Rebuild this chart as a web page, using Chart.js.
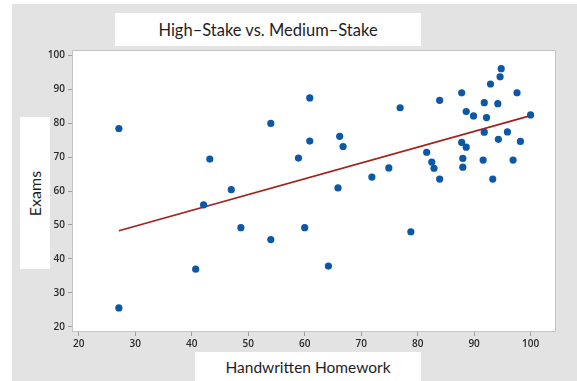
<!DOCTYPE html>
<html>
<head>
<meta charset="utf-8">
<script src="https://cdn.jsdelivr.net/npm/chart.js@4/dist/chart.umd.min.js"></script>
<style>
  html, body { margin: 0; padding: 0; background: #ffffff; }
  #wrap { position: relative; width: 577px; height: 381px; overflow: hidden; font-family: Lato, "Open Sans", sans-serif; }
  #panel { position: absolute; left: 12px; top: 4px; width: 565px; height: 377px; background: #e3e3e3; }
  .box { position: absolute; background: #ffffff; color: #1e1e1e; display: flex; align-items: center; justify-content: center; }
  #title { left: 115px; top: 13px; width: 306px; height: 33px; font-size: 16.5px; }
  #xlab { left: 195px; top: 352px; width: 226px; height: 29px; font-size: 15.5px; }
  #ylab { left: 20px; top: 117px; width: 30px; height: 152px; font-size: 16px; }
  #ylab span { display: inline-block; transform: rotate(-90deg); white-space: nowrap; }
  #c { position: absolute; left: 0; top: 0; }
</style>
</head>
<body>
<div id="wrap">
  <div id="panel"></div>
  <div class="box" id="title">High–Stake vs. Medium–Stake</div>
  <div class="box" id="ylab"><span>Exams</span></div>
  <div class="box" id="xlab">Handwritten Homework</div>
  <canvas id="c" width="577" height="381"></canvas>
</div>
<script>
// Handwritten homework score (x) and exam score (y) for each student
const homework = [27.1, 27.1, 40.7, 42.1, 43.2, 47.0, 48.7, 54.0, 54.0, 58.9,
                  60.0, 60.9, 60.9, 64.2, 65.9, 66.2, 66.8, 71.9, 74.9, 76.9,
                  78.8, 81.6, 82.5, 82.9, 83.9, 83.9, 87.8, 88.6, 89.9, 87.8,
                  88.6, 88.0, 88.0, 91.6, 93.3, 91.8, 92.2, 91.8, 92.9, 94.2,
                  94.3, 94.6, 94.8, 95.9, 96.9, 97.6, 98.2, 100.0];
const exams    = [78.4, 25.6, 37.0, 55.9, 69.4, 60.4, 49.2, 79.9, 45.7, 69.7,
                  49.2, 87.4, 74.7, 37.9, 60.9, 76.1, 73.1, 64.1, 66.8, 84.5,
                  48.0, 71.4, 68.5, 66.7, 63.5, 86.7, 88.9, 83.4, 82.1, 74.3,
                  72.9, 69.6, 67.0, 69.1, 63.5, 86.0, 81.6, 77.3, 91.5, 85.7,
                  75.2, 93.6, 96.0, 77.4, 69.1, 88.9, 74.6, 82.4];

// Fitted regression line end points
const fitX = [27.1, 100.0];
const fitY = [48.3, 82.2];

// Axis tick labels
const xTicks = [20, 30, 40, 50, 60, 70, 80, 90, 100];
const yTicks = [20, 30, 40, 50, 60, 70, 80, 90, 100];

const points = homework.map((x, i) => ({ x: x, y: exams[i] }));
const fitLine = fitX.map((x, i) => ({ x: x, y: fitY[i] }));

// White plot area with a thin grey frame
const plotFrame = {
  id: 'plotFrame',
  beforeDatasetsDraw(chart) {
    const a = chart.chartArea, ctx = chart.ctx;
    ctx.save();
    ctx.fillStyle = '#ffffff';
    ctx.fillRect(a.left, a.top, a.right - a.left, a.bottom - a.top);
    ctx.strokeStyle = '#c4c4c4';
    ctx.lineWidth = 1;
    ctx.strokeRect(a.left + 0.5, a.top + 0.5, a.right - a.left - 1, a.bottom - a.top - 1);
    ctx.restore();
  }
};

const tickFont = { family: '"Open Sans", sans-serif', size: 10, weight: '600' };

new Chart(document.getElementById('c'), {
  type: 'scatter',
  data: {
    datasets: [
      {
        data: points,
        backgroundColor: '#0b57a8',
        borderColor: '#0b57a8',
        borderWidth: 0,
        pointRadius: 3.6,
        pointHoverRadius: 3.6
      },
      {
        type: 'line',
        data: fitLine,
        borderColor: '#a3221d',
        borderWidth: 1.8,
        pointRadius: 0,
        fill: false,
        tension: 0
      }
    ]
  },
  options: {
    responsive: false,
    animation: false,
    devicePixelRatio: 1,
    layout: { padding: { left: 0, right: 21, top: 50, bottom: 0 } },
    plugins: { legend: { display: false }, tooltip: { enabled: false }, title: { display: false } },
    scales: {
      x: {
        type: 'linear',
        min: 18.8,
        max: 104.5,
        afterFit(s) { s.height = 49; },
        afterBuildTicks(s) { s.ticks = xTicks.map(v => ({ value: v })); },
        grid: { display: true, drawOnChartArea: false, drawTicks: true, tickLength: 4, color: '#a0a0a0' },
        border: { display: false },
        ticks: { font: tickFont, color: '#2a2a2a', padding: 2, maxRotation: 0 }
      },
      y: {
        type: 'linear',
        min: 18.5,
        max: 101.5,
        afterFit(s) { s.width = 72; },
        afterBuildTicks(s) { s.ticks = yTicks.map(v => ({ value: v })); },
        grid: { display: true, drawOnChartArea: false, drawTicks: true, tickLength: 4, color: '#a0a0a0' },
        border: { display: false },
        ticks: { font: tickFont, color: '#2a2a2a', padding: 3 }
      }
    }
  },
  plugins: [plotFrame]
});
</script>
</body>
</html>
